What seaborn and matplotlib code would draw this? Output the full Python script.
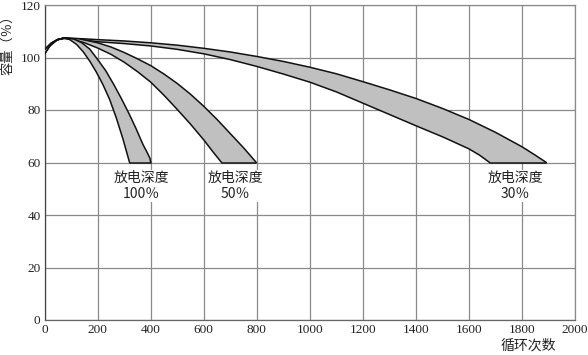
import matplotlib
matplotlib.use("Agg")
import matplotlib.pyplot as plt
import seaborn as sns
import pandas as pd

# ---- data ----
x_ticks = [0, 200, 400, 600, 800, 1000, 1200, 1400, 1600, 1800, 2000]
y_ticks = [0, 20, 40, 60, 80, 100, 120]

# 100% depth of discharge band
d100_inner_x = [0, 20, 45, 70, 95, 120, 145, 170, 195, 220, 245, 270, 295, 320]
d100_inner_y = [101.5, 104.5, 106.6, 107.4, 106.8, 105.0, 102.2, 98.6, 94.4, 89.6, 84.0, 77.0, 69.0, 60]
d100_outer_x = [0, 25, 50, 80, 110, 140, 170, 200, 230, 260, 290, 320, 345, 370, 388, 397, 400]
d100_outer_y = [103, 105.5, 106.9, 107.4, 107.0, 105.6, 103.2, 99.2, 95.0, 89.8, 84.2, 78.2, 72.8, 67.0, 63.5, 61.6, 60]

# 50% depth of discharge band
d50_inner_x = [0, 20, 45, 70, 110, 150, 200, 250, 300, 350, 400, 450, 500, 550, 600, 635, 667]
d50_inner_y = [101.5, 104.5, 106.6, 107.4, 106.8, 105.6, 103.6, 101.2, 98.2, 94.6, 90.6, 85.6, 80.2, 74.6, 68.6, 64.0, 60]
d50_outer_x = [0, 25, 50, 80, 130, 200, 250, 300, 350, 400, 450, 500, 550, 600, 650, 700, 750, 775, 798]
d50_outer_y = [103, 105.5, 106.9, 107.4, 107.1, 105.6, 104.0, 101.9, 99.5, 96.9, 93.7, 90.1, 86.0, 81.4, 76.4, 71.0, 65.6, 62.7, 60]

# 30% depth of discharge band
d30_inner_x = [0, 20, 45, 70, 110, 200, 300, 400, 500, 600, 700, 800, 900, 1000, 1100, 1200, 1300, 1400, 1500, 1600, 1640, 1678]
d30_inner_y = [101.5, 104.5, 106.6, 107.4, 107.1, 106.0, 105.3, 104.4, 103.1, 101.4, 99.2, 96.6, 93.7, 90.6, 86.9, 82.6, 78.3, 74.0, 69.8, 65.2, 62.8, 60]
d30_outer_x = [0, 25, 50, 80, 150, 200, 300, 400, 500, 600, 700, 800, 900, 1000, 1100, 1200, 1300, 1400, 1500, 1600, 1700, 1800, 1850, 1892]
d30_outer_y = [103, 105.5, 106.9, 107.4, 107.1, 106.8, 106.3, 105.6, 104.7, 103.5, 102.1, 100.4, 98.5, 96.3, 93.8, 90.8, 87.7, 84.4, 80.6, 76.4, 71.5, 66.0, 62.8, 60]

labels = ["放电深度\n100％", "放电深度\n50％", "放电深度\n30％"]
label_x = [365, 718, 1775]
label_y = [51, 51, 51]

# ---- drawing ----
sns.set_theme(style="white")
plt.rcParams['font.family'] = ['Noto Sans CJK SC', 'DejaVu Sans']

fig = plt.figure(figsize=(5.88, 3.55), dpi=100)
ax = fig.add_axes([44.7 / 588, 35 / 355, 530.3 / 588, 315 / 355])

bands = [
    (d100_inner_x, d100_inner_y, d100_outer_x, d100_outer_y),
    (d50_inner_x, d50_inner_y, d50_outer_x, d50_outer_y),
    (d30_inner_x, d30_inner_y, d30_outer_x, d30_outer_y),
]
for z, (ix, iy, ox, oy) in enumerate(bands[::-1]):
    px = list(ix) + list(ox[::-1])
    py = list(iy) + list(oy[::-1])
    ax.fill(px, py, facecolor="#c0c0c0", edgecolor="none", zorder=3 + 2 * z)
    for cx, cy in ((ix, iy), (ox, oy)):
        df = pd.DataFrame({"x": cx, "y": cy})
        sns.lineplot(data=df, x="x", y="y", sort=False, color="#111111",
                     linewidth=1.1, ax=ax, zorder=4 + 2 * z)
    ax.plot([ix[-1], ox[-1]], [iy[-1], oy[-1]], color="#111111", linewidth=1.1, zorder=4 + 2 * z)

for t, lx, ly in zip(labels, label_x, label_y):
    ax.text(lx, ly, t, ha="center", va="center", fontsize=10, color="#222222",
            linespacing=1.2, zorder=10,
            bbox=dict(facecolor="white", edgecolor="none", pad=0.5))

ax.set_xlim(0, 2000)
ax.set_ylim(0, 120)
ax.set_xticks(x_ticks)
ax.set_yticks(y_ticks)
ax.set_xticklabels([str(v) for v in x_ticks], fontfamily=["Liberation Serif"],
                   fontsize=9.5, color="#222222")
ax.set_yticklabels([str(v) for v in y_ticks], fontfamily=["Liberation Serif"],
                   fontsize=9.5, color="#222222")
ax.tick_params(length=0, pad=3)
ax.grid(True, color="#8a8a8a", linewidth=0.9, zorder=0)
ax.set_axisbelow(True)
for s in ax.spines.values():
    s.set_color("#8a8a8a")
    s.set_linewidth(0.9)
ax.spines["left"].set_color("#444444")
ax.spines["bottom"].set_color("#666666")
ax.set_xlabel("")
ax.set_ylabel("")

fig.text(8 / 588, 1 - 42 / 355, "容量（％）", rotation=90, ha="center", va="center",
         fontsize=9.5, color="#222222")
fig.text(528 / 588, 1 - 346 / 355, "循环次数", ha="center", va="center",
         fontsize=10, color="#222222")

fig.savefig("out.png", dpi=100)
